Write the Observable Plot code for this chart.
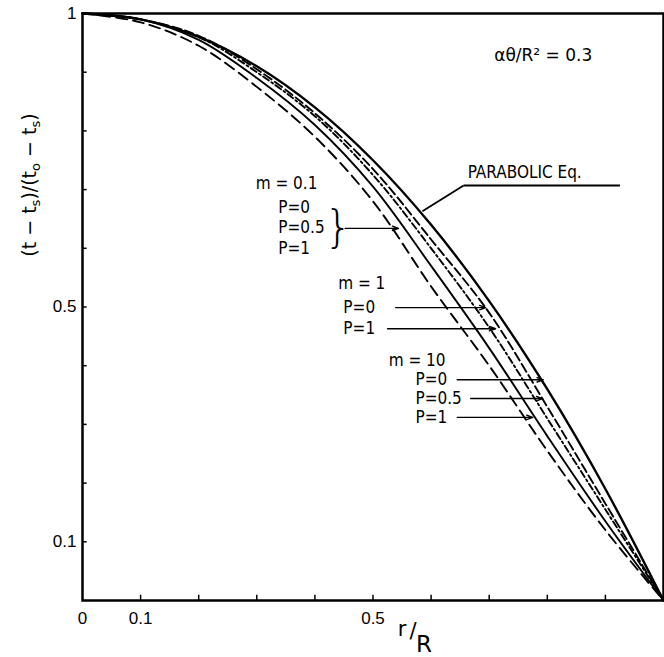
<!DOCTYPE html>
<html>
<head>
<meta charset="utf-8">
<script src="https://cdn.jsdelivr.net/npm/d3@7"></script>
<script src="https://cdn.jsdelivr.net/npm/@observablehq/plot@0.6"></script>
<style>
  html, body { margin: 0; padding: 0; background: #fff; }
  #chart svg { display: block; }
</style>
</head>
<body>
<div id="chart"></div>
<script>
// ---- data ----
const rValues = [0, 0.1, 0.2, 0.3, 0.4, 0.5, 0.6, 0.7, 0.8, 0.9, 1.0];
const parabolicEq = [1, 0.99, 0.96, 0.91, 0.84, 0.75, 0.64, 0.51, 0.36, 0.19, 0];
const curveDashDotUpper = [1, 0.99, 0.962, 0.905, 0.83, 0.735, 0.615, 0.49, 0.33, 0.165, 0];
const curveDashedLower = [1, 0.99, 0.96, 0.90, 0.825, 0.725, 0.60, 0.465, 0.31, 0.155, 0];
const curveSolid = [1, 0.99, 0.955, 0.89, 0.81, 0.705, 0.57, 0.43, 0.28, 0.135, 0];
const curveLongDash = [1, 0.985, 0.945, 0.875, 0.79, 0.68, 0.535, 0.40, 0.255, 0.12, 0];

const xMinorTicks = [0.1, 0.2, 0.3, 0.4, 0.5, 0.6, 0.7, 0.8, 0.9];
const yMinorTicks = [0.1, 0.2, 0.3, 0.4, 0.5, 0.6, 0.7, 0.8, 0.9];
const xTickValues = [0, 0.1, 0.5];
const xTickText = ["0", "0.1", "0.5"];
const yTickValues = [1, 0.5, 0.1];
const yTickText = ["1", "0.5", "0.1"];

// annotation texts (data units)
const labels = [
  {x: 0.298, y: 0.710, text: "m = 0.1"},
  {x: 0.337, y: 0.670, text: "P=0"},
  {x: 0.337, y: 0.635, text: "P=0.5"},
  {x: 0.337, y: 0.600, text: "P=1"},
  {x: 0.440, y: 0.540, text: "m = 1"},
  {x: 0.449, y: 0.499, text: "P=0"},
  {x: 0.449, y: 0.463, text: "P=1"},
  {x: 0.527, y: 0.409, text: "m = 10"},
  {x: 0.573, y: 0.376, text: "P=0"},
  {x: 0.573, y: 0.344, text: "P=0.5"},
  {x: 0.573, y: 0.312, text: "P=1"}
];
const arrows = [
  {x1: 0.452, x2: 0.544, y1: 0.634, y2: 0.634},
  {x1: 0.539, x2: 0.694, y1: 0.499, y2: 0.499},
  {x1: 0.525, x2: 0.711, y1: 0.463, y2: 0.463},
  {x1: 0.645, x2: 0.793, y1: 0.376, y2: 0.376},
  {x1: 0.668, x2: 0.792, y1: 0.344, y2: 0.344},
  {x1: 0.645, x2: 0.775, y1: 0.312, y2: 0.312}
];

const series = [
  {name: "Parabolic Eq.", values: parabolicEq, dash: null, width: 2.4},
  {name: "upper dashed", values: curveDashDotUpper, dash: "9,4", width: 1.9},
  {name: "lower dash-dot", values: curveDashedLower, dash: "7,3,2,3", width: 1.9},
  {name: "solid", values: curveSolid, dash: null, width: 1.9},
  {name: "long dash", values: curveLongDash, dash: "11,6", width: 1.9}
];

const lineMarks = series.map(s => Plot.line(
  rValues.map((r, i) => ({r, v: s.values[i]})),
  {x: "r", y: "v", curve: "catmull-rom", stroke: "black", strokeWidth: s.width,
   strokeDasharray: s.dash ?? undefined}
));

const annotFont = "DejaVu Sans Condensed, DejaVu Sans, sans-serif";

const svg = Plot.plot({
  width: 664,
  height: 657,
  marginLeft: 82,
  marginRight: 1,
  marginTop: 13,
  marginBottom: 57,
  style: {fontFamily: "Liberation Sans, Arial, sans-serif", background: "white"},
  x: {domain: [0, 1], axis: null},
  y: {domain: [0, 1], axis: null},
  marks: [
    ...lineMarks,
    Plot.frame({stroke: "black", strokeWidth: 2.5}),
    Plot.ruleX(xMinorTicks, {x: d => d, y1: 0, y2: 0.009, stroke: "black", strokeWidth: 1.5}),
    Plot.ruleY(yMinorTicks, {y: d => d, x1: 0, x2: 0.008, stroke: "black", strokeWidth: 1.5}),
    Plot.text(xTickValues, {x: d => d, y: 0, dy: 18, text: (d, i) => xTickText[i], fontSize: 17}),
    Plot.text(yTickValues, {x: 0, y: d => d, dx: -6, textAnchor: "end", text: (d, i) => yTickText[i], fontSize: 17}),
    // annotations
    Plot.text([{x: 0.793, y: 0.928}], {x: "x", y: "y", text: () => "αθ/R² = 0.3", fontSize: 17, fontFamily: "DejaVu Sans"}),
    Plot.text([{x: 0.663, y: 0.729}], {x: "x", y: "y", text: () => "PARABOLIC Eq.", fontSize: 17, textAnchor: "start", letterSpacing: 3.2, fontFamily: annotFont}),
    Plot.link([{x1: 0.656, x2: 0.925, y1: 0.707, y2: 0.707}, {x1: 0.656, x2: 0.585, y1: 0.707, y2: 0.663}],
      {x1: "x1", x2: "x2", y1: "y1", y2: "y2", stroke: "black", strokeWidth: 1.8}),
    Plot.text(labels, {x: "x", y: "y", text: "text", textAnchor: "start", fontSize: 17, letterSpacing: 0.5, fontFamily: annotFont}),
    Plot.text([{x: 0.44, y: 0.634}], {x: "x", y: "y", text: () => "}", fontSize: 44, fontFamily: "DejaVu Sans", fontWeight: 200}),
    Plot.arrow(arrows, {x1: "x1", x2: "x2", y1: "y1", y2: "y2", stroke: "black", strokeWidth: 1.4, headLength: 7, headAngle: 40})
  ]
});

// axis titles with subscripts
const s = d3.select(svg);
const yt = s.append("text")
  .attr("transform", "translate(36,185) rotate(-90)")
  .attr("text-anchor", "middle")
  .attr("font-family", "DejaVu Sans")
  .attr("font-size", 19)
  .attr("fill", "black");
yt.append("tspan").text("(t − t");
yt.append("tspan").attr("font-size", 13).attr("dy", 4).text("s");
yt.append("tspan").attr("dy", -4).text(")/(t");
yt.append("tspan").attr("font-size", 13).attr("dy", 4).text("o");
yt.append("tspan").attr("dy", -4).text(" − t");
yt.append("tspan").attr("font-size", 13).attr("dy", 4).text("s");
yt.append("tspan").attr("dy", -4).text(")");

// x title "r/R" as separate pieces so they do not overlap
const xTitleFont = "DejaVu Sans";
s.append("text").attr("x", 402).attr("y", 636).attr("font-family", xTitleFont).attr("font-size", 21).text("r");
s.append("text").attr("x", 413).attr("y", 638).attr("font-family", xTitleFont).attr("font-size", 21).text("/");
s.append("text").attr("x", 424).attr("y", 652).attr("font-family", xTitleFont).attr("font-size", 23).text("R");

document.getElementById("chart").appendChild(svg);
</script>
</body>
</html>
